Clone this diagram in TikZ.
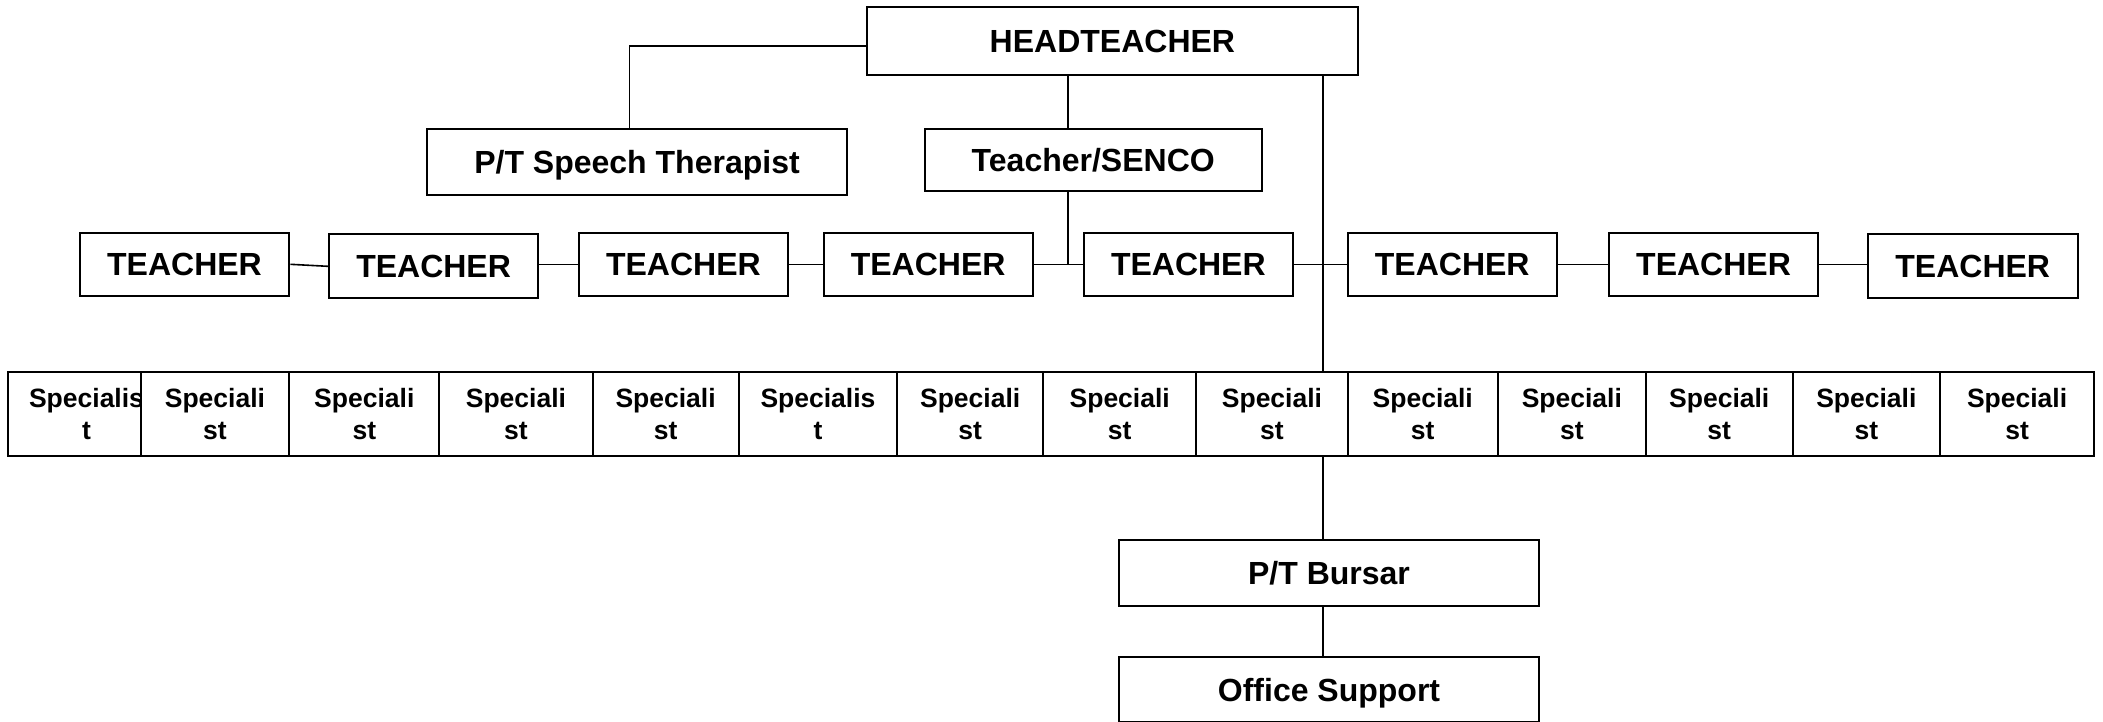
\documentclass[tikz,border=0pt]{standalone}
\usepackage{fontspec}
\setmainfont{Liberation Sans}
\begin{document}
\begin{tikzpicture}[x=1pt,y=-1pt,
  orgbox/.style={draw=black, fill=white, line width=2pt, inner sep=0pt,
    text height=23pt, text depth=0pt,
    font=\fontsize{32}{38}\selectfont\bfseries},
  specbox/.style={draw=black, fill=white, line width=2pt, inner sep=0pt,
    align=center, font=\fontsize{26.5}{32}\selectfont\bfseries},
  link/.style={draw=black, line width=1.6pt}]
\useasboundingbox (0,0) rectangle (2103,721);

% top level
\node[orgbox, minimum width=491.8pt, minimum height=68pt] (head) at (1112.4,41.3) {HEADTEACHER};
\node[orgbox, minimum width=420pt, minimum height=66pt] (speech) at (637,162) {P/T Speech Therapist};
\node[orgbox, minimum width=336.5pt, minimum height=61.7pt] (senco) at (1093.25,160.15) {Teacher/SENCO};

% teachers
\node[orgbox, minimum width=209.6pt, minimum height=63.3pt] (t1) at (184.5,264.3) {TEACHER};
\node[orgbox, minimum width=209.6pt, minimum height=63.4pt] (t2) at (433.6,266) {TEACHER};
\node[orgbox, minimum width=209.6pt, minimum height=63.3pt] (t3) at (683.4,264.3) {TEACHER};
\node[orgbox, minimum width=208.9pt, minimum height=63.3pt] (t4) at (928.15,264.3) {TEACHER};
\node[orgbox, minimum width=209.5pt, minimum height=63.3pt] (t5) at (1188.35,264.3) {TEACHER};
\node[orgbox, minimum width=209.5pt, minimum height=63.3pt] (t6) at (1452.25,264.3) {TEACHER};
\node[orgbox, minimum width=209.5pt, minimum height=63.3pt] (t7) at (1713.55,264.3) {TEACHER};
\node[orgbox, minimum width=209.5pt, minimum height=63.4pt] (t8) at (1972.75,266) {TEACHER};

% specialists
\node[specbox, minimum width=157pt, minimum height=84pt] (s1) at (86.5,414) {Specialis\\t};
\node[specbox, minimum width=148.7pt, minimum height=84pt] (s2) at (214.95,414) {Speciali\\st};
\node[specbox, minimum width=150pt, minimum height=84pt] (s3) at (364.3,414) {Speciali\\st};
\node[specbox, minimum width=153.3pt, minimum height=84pt] (s4) at (515.95,414) {Speciali\\st};
\node[specbox, minimum width=146pt, minimum height=84pt] (s5) at (665.6,414) {Speciali\\st};
\node[specbox, minimum width=158.7pt, minimum height=84pt] (s6) at (817.95,414) {Specialis\\t};
\node[specbox, minimum width=145.7pt, minimum height=84pt] (s7) at (970.15,414) {Speciali\\st};
\node[specbox, minimum width=153.4pt, minimum height=84pt] (s8) at (1119.7,414) {Speciali\\st};
\node[specbox, minimum width=151.1pt, minimum height=84pt] (s9) at (1271.95,414) {Speciali\\st};
\node[specbox, minimum width=150.5pt, minimum height=84pt] (s10) at (1422.75,414) {Speciali\\st};
\node[specbox, minimum width=147.7pt, minimum height=84pt] (s11) at (1571.85,414) {Speciali\\st};
\node[specbox, minimum width=147.1pt, minimum height=84pt] (s12) at (1719.25,414) {Speciali\\st};
\node[specbox, minimum width=147.1pt, minimum height=84pt] (s13) at (1866.35,414) {Speciali\\st};
\node[specbox, minimum width=154.4pt, minimum height=84pt] (s14) at (2017.1,414) {Speciali\\st};

% office staff
\node[orgbox, minimum width=420pt, minimum height=65.4pt] (bursar) at (1329,573) {P/T Bursar};
\node[orgbox, minimum width=420pt, minimum height=65pt] (office) at (1329,689.5) {Office Support};

% vertical guide positions of the trunk lines
\coordinate (hs) at (1068,0);
\coordinate (sp) at (1322.7,0);

% connectors
\draw[link] ([yshift=-4.7pt]head.west) -| ([xshift=-7.5pt]speech.north);
\draw[link] (head.south -| hs) -- (senco.north -| hs);
\draw[link] (senco.south -| hs) -- (hs |- t4.east);
\draw[link] (t1.east) -- ([yshift=-0.3pt]t2.west);
\draw[link] (t2.east |- t3.west) -- (t3.west);
\draw[link] (t3.east) -- (t4.west);
\draw[link] (t4.east) -- (t5.west);
\draw[link] (t5.east) -- (t6.west);
\draw[link] (t6.east) -- (t7.west);
\draw[link] (t7.east) -- (t7.east -| t8.west);
\draw[link] (head.south -| sp) -- (s9.north -| sp);
\draw[link] (s9.south -| sp) -- (bursar.north -| sp);
\draw[link] (bursar.south -| sp) -- (office.north -| sp);
\end{tikzpicture}
\end{document}
